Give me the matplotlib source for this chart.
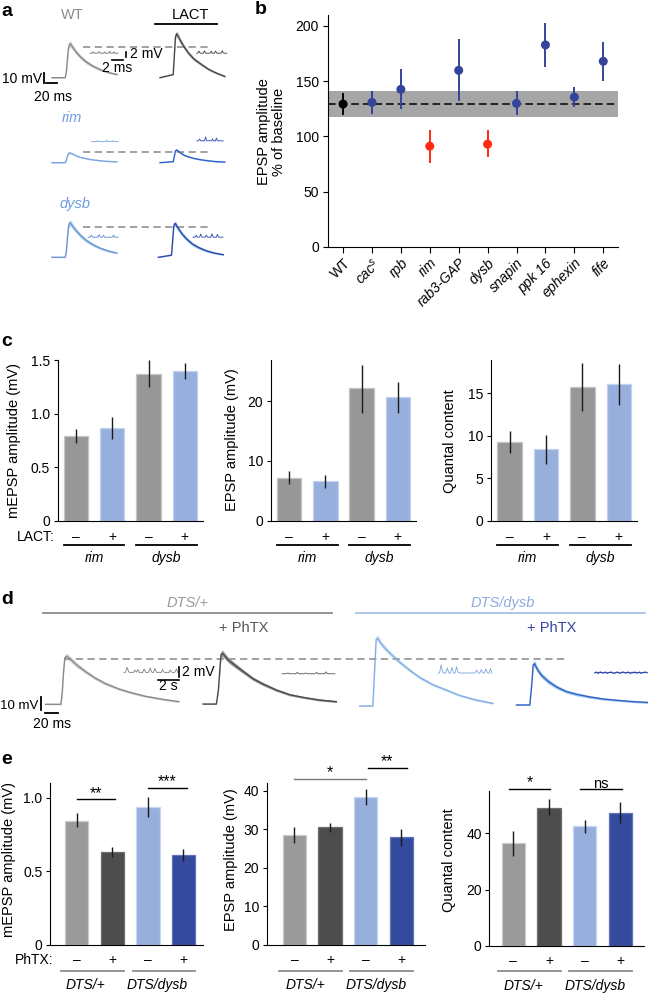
import numpy as np
import matplotlib
matplotlib.use('Agg')
import matplotlib.pyplot as plt

plt.rcParams['font.family'] = ['Liberation Sans', 'DejaVu Sans']
plt.rcParams['mathtext.fontset'] = 'custom'
plt.rcParams['mathtext.it'] = 'Liberation Sans:italic'
plt.rcParams['mathtext.rm'] = 'Liberation Sans'
plt.rcParams['axes.linewidth'] = 0.8
plt.rcParams['xtick.major.width'] = 0.8
plt.rcParams['ytick.major.width'] = 0.8

# ---------------- data ----------------
# panel a: mean EPSP traces (mV above baseline) at these times (ms)
t_a = [0, 24, 26, 28, 30, 32, 34, 38, 44, 52, 62, 74, 88, 102, 118]
epsp_wt = [0, 0, 5, 17, 28, 32, 31.5, 28.5, 24, 19.5, 15, 11, 7.5, 5, 3]
epsp_wt_lact = [0, 3, 20, 38, 41.5, 40, 38, 34, 29, 23, 17.5, 13, 8, 4.5, 1.2]
epsp_rim = [0, 0, 2, 6, 8.5, 9.4, 9, 8, 6.5, 5, 3.8, 2.7, 1.8, 1.2, 0.8]
epsp_rim_lact = [0, 1, 6, 11, 12, 11.5, 10.5, 9, 7, 5.5, 4, 2.8, 1.8, 1, 0.6]
epsp_dysb = [0, 0, 5, 18, 29, 32.5, 32, 29, 25, 20.5, 16, 12, 8.5, 6, 4]
epsp_dysb_lact = [0, 2, 15, 29, 32, 31, 29, 26, 21.5, 17, 12.5, 9, 6, 4, 2.5]
sem_a = [0.3, 0.3, 1.0, 2.0, 2.5, 3.0, 3.0, 2.5, 2.2, 2.0, 1.8, 1.5, 1.2, 1.0, 0.8]
sem_a_thin = [0.2, 0.2, 0.5, 0.8, 1.0, 1.0, 0.9, 0.8, 0.7, 0.6, 0.5, 0.5, 0.4, 0.3, 0.3]

# panel a: spontaneous minis (mV)
mini_wt = [0.0, 0.1, 0.0, 0.6, 0.1, 0.0, 0.1, 0.0, 0.1, 0.7, 0.1, 0.0, 0.1, 0.0, 0.5, 0.1, 0.0, 0.1, 0.0, 0.8, 0.1, 0.0, 0.1, 0.6, 0.0, 0.1, 0.0, 0.1]
mini_wt_lact = [0.0, 0.1, 0.9, 0.1, 0.0, 0.1, 0.0, 1.0, 0.1, 0.0, 0.1, 0.0, 0.1, 0.8, 0.0, 0.1, 0.0, 0.9, 0.1, 0.0, 0.1, 0.0, 0.1, 1.0, 0.1, 0.0, 0.1, 0.0]
mini_rim = [0.0, 0.1, 0.0, 0.1, 0.0, 0.1, 0.5, 0.0, 0.1, 0.0, 0.1, 0.0, 0.1, 0.0, 0.1, 0.6, 0.1, 0.0, 0.1, 0.0, 0.1, 0.0, 0.5, 0.1, 0.0, 0.1, 0.0, 0.1]
mini_rim_lact = [0.1, 0.0, 0.2, 0.8, 0.1, 0.0, 0.2, 0.1, 0.0, 1.6, 0.2, 0.0, 0.1, 0.2, 0.0, 0.1, 0.9, 0.0, 0.1, 0.0, 1.2, 0.1, 0.0, 0.2, 0.1, 0.0, 0.1, 0.0]
mini_dysb = [0.0, 0.1, 0.0, 0.9, 0.1, 0.0, 0.1, 0.0, 0.1, 0.0, 1.1, 0.1, 0.0, 0.1, 0.8, 0.0, 0.1, 0.0, 0.1, 0.0, 0.1, 0.0, 0.1, 0.9, 0.1, 0.0, 0.1, 0.0]
mini_dysb_lact = [0.0, 0.1, 0.0, 0.8, 0.1, 0.0, 0.2, 1.3, 0.1, 0.0, 0.1, 0.0, 0.9, 0.1, 0.0, 0.1, 0.0, 1.4, 0.1, 0.0, 0.1, 0.0, 1.2, 0.1, 0.0, 0.1, 0.0, 0.1]

# panel b: EPSP amplitude after LACT (% of baseline)
b_genotypes = ['WT', 'cac$^s$', 'rpb', 'rim', 'rab3-GAP', 'dysb', 'snapin', 'ppk 16', 'ephexin', 'fife']
b_effect = ['control', 'normal', 'normal', 'blocked', 'normal', 'blocked', 'normal', 'normal', 'normal', 'normal']
b_mean = [129.3, 130.8, 142.6, 91.2, 159.8, 93.0, 129.9, 182.8, 135.6, 168.0]
b_low = [119.3, 119.9, 124.8, 76.4, 132.0, 81.6, 119.3, 163.1, 126.3, 150.5]
b_high = [139.0, 141.4, 161.0, 105.7, 188.2, 105.7, 141.4, 202.4, 144.4, 185.5]
wt_range = [117.8, 141.1]
wt_level = 129.0

# panel c
c_signs = ['–', '+', '–', '+']
c_groups = ['rim', 'dysb']
c_mepsp = [0.794, 0.865, 1.369, 1.394]
c_mepsp_lo = [0.728, 0.766, 1.251, 1.320]
c_mepsp_hi = [0.853, 0.965, 1.497, 1.469]
c_epsp = [7.2, 6.6, 22.2, 20.7]
c_epsp_lo = [6.15, 5.47, 18.1, 18.0]
c_epsp_hi = [8.27, 7.65, 26.1, 23.3]
c_qc = [9.23, 8.4, 15.74, 16.06]
c_qc_lo = [7.93, 6.67, 12.96, 13.62]
c_qc_hi = [10.56, 10.13, 18.57, 18.45]

# panel d: EPSP traces (mV) at these times (ms)
t_d = [0, 20, 23, 25, 27, 29, 32, 38, 48, 60, 75, 90, 110, 130, 150, 175, 200]
epsp_dts = [0, 0, 0, 8, 24, 35, 36, 33.5, 29, 24.5, 19.5, 15.5, 11.5, 8.5, 6, 3.8, 2]
epsp_dts_phtx = [0, 0, 10, 24, 37, 38, 36.5, 33, 29, 24.5, 19, 15, 10.5, 7, 5, 3, 1.8]
epsp_dysb_d = [0, 0, 30, 50, 51, 49.5, 47, 43.5, 38.5, 33, 27, 21.5, 16, 12, 8, 4.5, 2]
epsp_dysb_phtx = [0, 0, 16, 30, 31, 29, 26, 22, 17.5, 13.5, 10, 8, 6, 4.5, 3.5, 2.5, 1.8]
sem_d = [0.3, 0.3, 1.0, 2.0, 2.5, 2.5, 2.2, 2.0, 1.8, 1.5, 1.3, 1.2, 1.0, 0.9, 0.8, 0.8, 0.7]
mini_d_dts = [0.0, 0.1, 1.0, 0.2, 0.0, 0.1, 0.0, 0.5, 0.1, 0.6, 0.0, 0.1, 0.0, 0.7, 0.1, 0.0, 0.1, 0.9, 0.1, 0.0, 0.8, 0.1, 0.0, 0.1, 0.0, 0.6, 0.1, 0.0, 0.1, 0.0, 0.5, 0.1, 0.0, 0.1, 0.7, 0.0]
mini_d_dts_phtx = [0.0, 0.1, 0.0, 0.1, 0.2, 0.0, 0.1, 0.0, 0.1, 0.0, 0.3, 0.1, 0.0, 0.1, 0.0, 0.1, 0.2, 0.0, 0.1, 0.0, 0.1, 0.0, 0.1, 0.3, 0.0, 0.1, 0.0, 0.1, 0.0, 0.4, 0.1, 0.0, 0.1, 0.0, 0.1, 0.0]
mini_d_dysb = [0.0, 0.1, 1.6, 0.2, 0.1, 0.0, 1.0, 0.1, 0.0, 1.1, 0.1, 0.0, 1.2, 0.2, 0.1, 0.0, 0.1, 0.0, 0.1, 0.0, 0.1, 0.0, 0.1, 0.0, 0.1, 0.6, 0.1, 0.0, 0.7, 0.1, 0.0, 0.8, 0.1, 0.0, 0.9, 0.0]
mini_d_dysb_phtx = [0.0, 0.1, -0.1, 0.05, 0.1, -0.05, 0.0, 0.1, -0.1, 0.0, 0.05, 0.1, -0.05, -0.1, 0.0, 0.1, 0.0, -0.1, 0.05, 0.1, 0.0, -0.05, 0.1, 0.0, -0.1, 0.05, 0.0, 0.1, -0.05, 0.0, 0.1, -0.1, 0.0, 0.05, 0.1, 0.0]

# panel e
e_signs = ['–', '+', '–', '+']
e_groups = ['DTS/+', 'DTS/dysb']
e_mepsp = [0.844, 0.633, 0.939, 0.611]
e_mepsp_lo = [0.799, 0.600, 0.871, 0.572]
e_mepsp_hi = [0.894, 0.667, 1.007, 0.649]
e_epsp = [28.6, 30.5, 38.4, 27.9]
e_epsp_lo = [26.5, 29.4, 36.3, 25.7]
e_epsp_hi = [30.5, 31.5, 40.5, 30.1]
e_qc = [36.4, 49.2, 42.5, 47.4]
e_qc_lo = [32.0, 46.4, 40.2, 43.8]
e_qc_hi = [40.7, 52.2, 44.7, 51.0]

# ---------------- figure ----------------
W, H = 648, 993
fig = plt.figure(figsize=(W / 100, H / 100), dpi=100)

canvas = fig.add_axes([0, 0, 1, 1])
canvas.set_xlim(0, W)
canvas.set_ylim(H, 0)
canvas.axis('off')


def px_axes(x0, y0, x1, y1):
    ax = fig.add_axes([x0 / W, 1 - y1 / H, (x1 - x0) / W, (y1 - y0) / H])
    ax.h_px = y1 - y0
    return ax


def scaled_axes(x0, y0, x1, y1, ox, oy, sx, sy):
    # axes whose data units are sx per pixel (x) and sy per pixel (y), origin at pixel (ox, oy)
    ax = px_axes(x0, y0, x1, y1)
    ax.set_xlim((x0 - ox) * sx, (x1 - ox) * sx)
    ax.set_ylim((oy - y1) * sy, (oy - y0) * sy)
    ax.axis('off')
    return ax


def trace(ax, t, v, sem, color, fill, dt=0.0, dv=0.0, lw=1.0):
    t = np.asarray(t, float) + dt
    v = np.asarray(v, float) + dv
    s = np.asarray(sem, float)
    ax.fill_between(t, v - s, v + s, color=fill, lw=0, clip_on=False)
    ax.plot(t, v, color=color, lw=lw, clip_on=False)


def mini(x0, x1, base, vals, color, sx, sy, lw=0.6):
    ax = scaled_axes(x0, base - 10, x1, base + 4, x0, base, sx, sy)
    tt = np.linspace(0, (x1 - x0) * sx, len(vals))
    ax.plot(tt, vals, color=color, lw=lw, clip_on=False)
    return ax


def txt(x, y, s, **kw):
    kw.setdefault('ha', 'center')
    kw.setdefault('va', 'center')
    canvas.text(x, y, s, **kw)


# panel letters
for letter, (x, y) in zip('abcde', [(1, 11), (255, 10), (1, 341), (1, 599), (1, 759)]):
    txt(x, y, letter, ha='left', fontsize=14, fontweight='bold')

# ---------------- panel a ----------------
SXA, SYA = 20 / 11.0, 10 / 10.6
MSX, MSY = 2 / 11.6, 0.4
txt(72, 15, 'WT', fontsize=10.5, color='#8a8a8a')
txt(190, 15, 'LACT', fontsize=10.5)
canvas.plot([155, 217], [24.3, 24.3], color='k', lw=1.3)
txt(72, 118, 'rim', fontsize=10.5, color='#6d9de0', style='italic')
txt(75, 204, 'dysb', fontsize=10.5, color='#6d9de0', style='italic')

rows_a = [
    (77.7, epsp_wt, epsp_wt_lact, sem_a, ('#8a8a8a', '#cfcfcf'), ('#454545', '#bdbdbd'), 29.2,
     (mini_wt, '#6e6e6e', 90, 118, 53.3), (mini_wt_lact, '#3a3a3a', 196.7, 226.7, 53.3)),
    (162.7, epsp_rim, epsp_rim_lact, sem_a_thin, ('#7aa6e3', '#c6dcf4'), ('#2b62cc', '#9cc4ef'), 9.8,
     (mini_rim, '#7aa6e3', 91.7, 118.3, 141.7), (mini_rim_lact, '#2b48b0', 196.7, 223.3, 141.0)),
    (257.3, epsp_dysb, epsp_dysb_lact, sem_a, ('#6d93d6', '#aed8f1'), ('#2b45a8', '#a2d2f1'), 28.3,
     (mini_dysb, '#5b82d4', 88, 118, 237.3), (mini_dysb_lact, '#2b45a8', 193, 223, 237.3)),
]
for i, (base, v1, v2, sem, c1, c2, dash, m1, m2) in enumerate(rows_a):
    ax = scaled_axes(30, base - 55, 236, base + 10, 52, base, SXA, SYA)
    ax.hlines(dash, (83 - 52) * SXA, (210 - 52) * SXA, colors='#9a9a9a', lw=1.3,
              linestyles=(0, (4, 2.5)), clip_on=False)
    trace(ax, t_a, v1, sem, c1[0], c1[1])
    shift = (160 - 52) * SXA if i < 2 else (158.3 - 52) * SXA
    trace(ax, t_a, v2, sem, c2[0], c2[1], dt=shift)
    for vals, col, x0, x1, mb in (m1, m2):
        mx = mini(x0, x1, mb, vals, col, MSX, MSY)
        if i == 0 and x0 < 100:
            # 2 mV / 2 ms scale bar for the minis
            mx.plot([36 * MSX, 36 * MSX], [-1.36, 0.64], color='k', lw=1.2, clip_on=False)
            mx.plot([21.7 * MSX, 33.3 * MSX], [-2.68, -2.68], color='k', lw=1.2, clip_on=False)
            mx.text(39.5 * MSX, -0.4, '2 mV', fontsize=10, ha='left', va='center')
            mx.text(27.5 * MSX, -6.0, '2 ms', fontsize=10, ha='center', va='center')
    if i == 0:
        ax.plot([-14, -14], [-5.3, 4.7], color='k', lw=1.3, clip_on=False)
        ax.plot([-11.5, 8.5], [-5.3, -5.3], color='k', lw=1.3, clip_on=False)
        ax.text(-18.5, -1.5, '10 mV', fontsize=10, ha='right', va='center')
        ax.text(2.4, -17.9, '20 ms', fontsize=10, ha='center', va='center')

# ---------------- panel b ----------------
ax_b = px_axes(328, 15.3, 618.3, 247)
xb = np.arange(len(b_genotypes))
effect_colors = {'control': 'black', 'normal': '#34449b', 'blocked': '#ff2b0f'}
bcol = [effect_colors[e] for e in b_effect]
ax_b.axhspan(wt_range[0], wt_range[1], color='#a6a6a6', lw=0, zorder=0)
ax_b.axhline(wt_level, color='black', lw=1.1, ls=(0, (5, 2.6)), zorder=1)
ax_b.vlines(xb, b_low, b_high, colors=bcol, lw=1.4, zorder=2)
ax_b.scatter(xb, b_mean, s=42, c=bcol, zorder=3, linewidths=0)
ax_b.set_xlim(-0.52, 9.52)
ax_b.set_ylim(0, 209.6)
ax_b.set_yticks([0, 50, 100, 150, 200])
ax_b.set_xticks(xb)
ax_b.set_xticklabels(b_genotypes, rotation=45, ha='right', va='top', rotation_mode='anchor')
for lab in ax_b.get_xticklabels()[1:]:
    lab.set_style('italic')
ax_b.tick_params(axis='y', length=3.6, pad=3, labelsize=10)
ax_b.tick_params(axis='x', length=4.5, pad=2, labelsize=10)
for s in ['top', 'right']:
    ax_b.spines[s].set_visible(False)
txt(271.7, 132, 'EPSP amplitude\n% of baseline', fontsize=10.5, rotation=90, linespacing=1.1)


# ---------------- bar panels c and e ----------------
def bar_axes(box, xlim, ylim, yticks, ytl):
    ax = px_axes(*box)
    ax.set_xlim(*xlim)
    ax.set_ylim(*ylim)
    ax.set_yticks(yticks)
    ax.set_yticklabels(ytl)
    ax.set_xticks([])
    ax.tick_params(axis='y', length=3, pad=2.5, labelsize=10)
    for s in ['top', 'right']:
        ax.spines[s].set_visible(False)
    return ax


def bars(ax, vals, lo, hi, colors, edges, width):
    x = np.arange(len(vals))
    ax.bar(x, vals, width=width, color=colors, edgecolor=edges, linewidth=0.9, zorder=2)
    ax.vlines(x, lo, hi, colors='#1a1a1a', lw=1.0, zorder=3)


def under(ax, signs, groups, d_sign, d_line, d_group, lcolor, left_ext, gshift, width):
    tr = ax.get_xaxis_transform()
    h = ax.h_px
    for i, s in enumerate(signs):
        ax.text(i, -d_sign / h, s, transform=tr, ha='center', va='center', fontsize=10)
    for g, name in enumerate(groups):
        a, b = 2 * g, 2 * g + 1
        ax.plot([a - width / 2 - left_ext, b + width / 2], [-d_line / h] * 2, transform=tr,
                color=lcolor, lw=1.3, clip_on=False)
        ax.text((a + b) / 2 + gshift, -d_group / h, name, transform=tr, ha='center', va='center',
                fontsize=10, style='italic')


def sig(ax, x1, x2, y, s, color='black', size=11.5):
    ax.plot([x1, x2], [y, y], color=color, lw=1.0, clip_on=False)
    ax.annotate(s, xy=((x1 + x2) / 2, y), xytext=(0, 1.2), textcoords='offset points',
                ha='center', va='baseline', fontsize=size, annotation_clip=False)


c_cols = ['#979797', '#97afdc', '#979797', '#97afdc']
c_edge = ['#c4c4c4', '#c3d3ef', '#c4c4c4', '#c3d3ef']
cw = 0.67
panels_c = [
    ((57.7, 360, 203, 520.7), (0, 1.5), [0, 0.5, 1.0, 1.5], ['0', '0.5', '1.0', '1.5'],
     c_mepsp, c_mepsp_lo, c_mepsp_hi, 'mEPSP amplitude (mV)', (14.5, 440.5)),
    ((271, 360, 416, 520.7), (0, 26.9), [0, 10, 20], ['0', '10', '20'],
     c_epsp, c_epsp_lo, c_epsp_hi, 'EPSP amplitude (mV)', (232.3, 439.7)),
    ((491.3, 360, 637, 520.7), (0, 18.9), [0, 5, 10, 15], ['0', '5', '10', '15'],
     c_qc, c_qc_lo, c_qc_hi, 'Quantal content', (450.3, 440.8)),
]
for k, (box, yl, yt, ytl, v, lo, hi, lab, lpos) in enumerate(panels_c):
    ax = bar_axes(box, (-0.5, 3.5), yl, yt, ytl)
    bars(ax, v, lo, hi, c_cols, c_edge, cw)
    under(ax, c_signs, c_groups, 16.3, 24.5, 37.5, 'black', 0.0, 0.0, cw)
    txt(lpos[0], lpos[1], lab, rotation=90, fontsize=10.5)
    if k == 0:
        ax.text(-2.7 / 145.3, -16.3 / ax.h_px, 'LACT:', transform=ax.transAxes,
                ha='right', va='center', fontsize=10)

# ---------------- panel d ----------------
SXD, SYD = 1.5, 0.75
DSX, DSY = 2 / 20.5, 2 / 10.7
txt(187, 603.3, 'DTS/+', fontsize=10.5, style='italic', color='#9a9a9a')
txt(503, 603.3, 'DTS/dysb', fontsize=10.5, style='italic', color='#8eaae0')
canvas.plot([43.4, 331.8], [613.3, 613.3], color='#8c8c8c', lw=1.3)
canvas.plot([356, 645], [613.3, 613.3], color='#a8bfe8', lw=1.3)
txt(244, 628.3, '+ PhTX', fontsize=10.5, color='#555555')
txt(552, 628.3, '+ PhTX', fontsize=10.5, color='#34449b')

ax_d = scaled_axes(0, 640, 648, 730, 45, 704.3, SXD, SYD)
ax_d.hlines(34, (64 - 45) * SXD, (566 - 45) * SXD, colors='#9a9a9a', lw=1.3,
            linestyles=(0, (4, 2.5)), clip_on=False)
trace(ax_d, t_d, epsp_dts, sem_d, '#8a8a8a', '#d4d4d4', dt=0.75)
trace(ax_d, t_d, epsp_dts_phtx, sem_d, '#4a4a4a', '#9c9c9c', dt=237, dv=0.2)
trace(ax_d, t_d, epsp_dysb_d, sem_d, '#82aee6', '#cde2f4', dt=471.75, dv=-1.3)
trace(ax_d, t_d, epsp_dysb_phtx, sem_d, '#2f5fc4', '#a8ccf0', dt=707.25, dv=-0.5)
ax_d.plot([-6, -6], [-4.3, 5.7], color='k', lw=1.3, clip_on=False)
ax_d.plot([-0.6, 19.4], [-6.75, -6.75], color='k', lw=1.3, clip_on=False)
ax_d.text(-9.5, -1.3, '10 mV', fontsize=9.5, ha='right', va='center')
ax_d.text(9.9, -14.8, '20 ms', fontsize=10, ha='center', va='center')

md = mini(124, 178, 672.7, mini_d_dts, '#808080', DSX, DSY)
md.plot([55 * DSX, 55 * DSX], [-0.86, 1.13], color='k', lw=1.2, clip_on=False)
md.plot([34 * DSX, 54.5 * DSX], [-1.37, -1.37], color='k', lw=1.2, clip_on=False)
md.text(58 * DSX, 0.19, '2 mV', fontsize=10, ha='left', va='center')
md.text(44 * DSX, -2.5, '2 s', fontsize=10, ha='center', va='center')
mini(282, 335, 674, mini_d_dts_phtx, '#5a5a5a', DSX, DSY)
mini(438, 492, 673.3, mini_d_dysb, '#7ea6e0', DSX, DSY)
mini(595, 647, 672.7, mini_d_dysb_phtx, '#2b45a8', DSX, DSY, lw=1.0)

# ---------------- panel e ----------------
e_cols = ['#9a9a9a', '#4d4d4d', '#97afdc', '#344a9d']
e_edge = ['#cbcbcb', '#6e6e6e', '#c8d6f0', '#6074bb']
ew = 0.655
ax = bar_axes((50, 783.3, 202.7, 945), (-0.75, 3.54), (0, 1.097), [0, 0.5, 1.0], ['0', '0.5', '1.0'])
bars(ax, e_mepsp, e_mepsp_lo, e_mepsp_hi, e_cols, e_edge, ew)
under(ax, e_signs, e_groups, 15, 25.7, 40, '#8c8c8c', 0.1, -0.25, ew)
ax.text(3.3 / 152.7, -15 / ax.h_px, 'PhTX:', transform=ax.transAxes, ha='right', va='center', fontsize=10)
sig(ax, 0, 1.07, 0.988, '**')
sig(ax, 2, 3.1, 1.065, '***')
txt(9.5, 859.7, 'mEPSP amplitude (mV)', rotation=90, fontsize=10.5)

ax = bar_axes((266.7, 783.3, 425, 945), (-0.78, 3.67), (0, 41.9), [0, 10, 20, 30, 40],
              ['0', '10', '20', '30', '40'])
bars(ax, e_epsp, e_epsp_lo, e_epsp_hi, e_cols, e_edge, ew)
under(ax, e_signs, e_groups, 15, 25.7, 40, '#8c8c8c', 0.1, -0.2, ew)
sig(ax, 0, 2.02, 43.0, '*', color='#7a7a7a')
sig(ax, 2.07, 3.15, 45.8, '**')
txt(231, 860, 'EPSP amplitude (mV)', rotation=90, fontsize=10.5)

ax = bar_axes((489.3, 790.7, 644.3, 945.7), (-0.67, 3.67), (0, 55.2), [0, 20, 40], ['0', '20', '40'])
bars(ax, e_qc, e_qc_lo, e_qc_hi, e_cols, e_edge, ew)
under(ax, e_signs, e_groups, 15, 25.7, 40, '#8c8c8c', 0.1, -0.2, ew)
sig(ax, -0.13, 1.04, 55.7, '*')
sig(ax, -0.13 + 2, 3.04, 55.7, 'ns', size=10.5)
txt(449.5, 860, 'Quantal content', rotation=90, fontsize=10.5)

fig.savefig('out.png', dpi=100)
